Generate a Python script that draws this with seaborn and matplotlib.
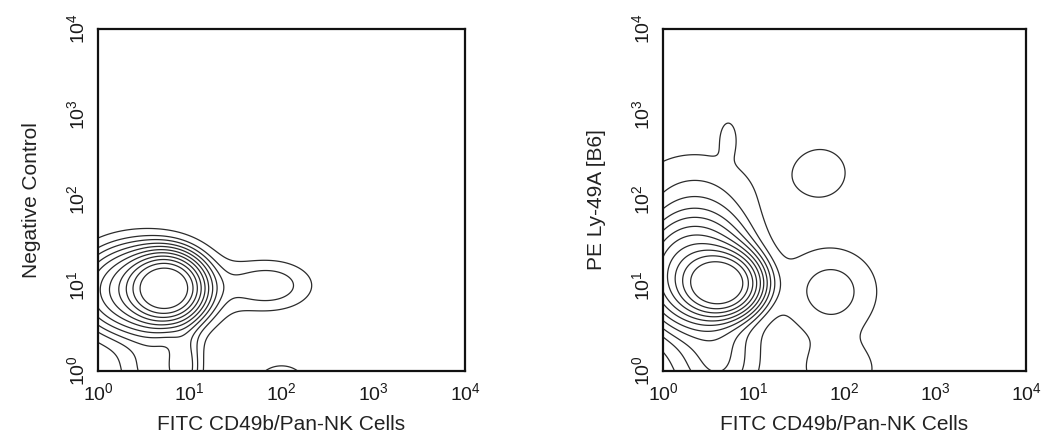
import matplotlib
matplotlib.use("Agg")
import matplotlib.pyplot as plt
import numpy as np
import seaborn as sns

# decades shown on both axes
decades = [0, 1, 2, 3, 4]
x_label = "FITC CD49b/Pan-NK Cells"
y_labels = ["Negative Control", "PE Ly-49A [B6]"]

# populations, in log10 units:
# centre x, centre y, spread x, spread y, relative weight
left_cx = [0.74, 0.50, 1.85, 2.00, 0.60, 0.95]
left_cy = [0.97, 0.95, 1.00, -0.15, 0.00, 0.05]
left_sx = [0.20, 0.40, 0.33, 0.18, 0.25, 0.12]
left_sy = [0.19, 0.30, 0.20, 0.15, 0.30, 0.30]
left_w = [1.00, 0.25, 0.043, 0.04, 0.035, 0.045]

right_cx = [0.63, 0.35, 0.35, 1.85, 1.74, 0.72, 1.95, 0.60]
right_cy = [1.02, 1.15, 2.10, 0.93, 2.32, 2.75, 0.00, 0.10]
right_sx = [0.22, 0.35, 0.55, 0.37, 0.25, 0.07, 0.32, 0.30]
right_sy = [0.19, 0.38, 0.40, 0.37, 0.25, 0.15, 0.25, 0.35]
right_w = [1.00, 0.30, 0.026, 0.038, 0.026, 0.02, 0.026, 0.045]

# contour levels (fraction of the main peak)
levels = [0.015, 0.03, 0.045, 0.065, 0.09, 0.125, 0.17, 0.235, 0.32, 0.44, 0.62]

sns.set_style("white")
plt.rcParams["font.family"] = ["Liberation Sans", "DejaVu Sans"]
plt.rcParams["mathtext.fontset"] = "custom"
plt.rcParams["mathtext.rm"] = "Liberation Sans"
plt.rcParams["mathtext.it"] = "Liberation Sans"


def density(u, v, cx, cy, sx, sy, w):
    z = np.zeros_like(u)
    for a, b, c, d, e in zip(cx, cy, sx, sy, w):
        z += e * np.exp(-0.5 * (((u - a) / c) ** 2 + ((v - b) / d) ** 2))
    return z


grid = np.linspace(-0.5, 4.5, 500)
U, V = np.meshgrid(grid, grid)

fig = plt.figure(figsize=(10.47, 4.36), dpi=100)
W, H = 1047, 436
axes = [
    fig.add_axes([98 / W, (H - 371) / H, 367 / W, 342 / H]),
    fig.add_axes([663 / W, (H - 371) / H, 363 / W, 342 / H]),
]
params = [
    (left_cx, left_cy, left_sx, left_sy, left_w),
    (right_cx, right_cy, right_sx, right_sy, right_w),
]

tick_vals = [10.0 ** k for k in decades]
tick_text = [f"$10^{{{k}}}$" for k in decades]

for ax, p, ylab in zip(axes, params, y_labels):
    Z = density(U, V, *p)
    ax.contour(10 ** U, 10 ** V, Z, levels=levels, colors="#2b2b2b",
               linewidths=0.9)
    ax.set_xscale("log")
    ax.set_yscale("log")
    ax.set_xlim(1, 1e4)
    ax.set_ylim(1, 1e4)
    ax.set_xticks(tick_vals)
    ax.set_xticklabels(tick_text, fontsize=14)
    ax.set_yticks(tick_vals)
    ax.set_yticklabels(tick_text, fontsize=14, rotation=90, va="center")
    ax.minorticks_off()
    ax.tick_params(axis="x", length=0, pad=8, colors="#1a1a1a")
    ax.tick_params(axis="y", length=0, pad=7, colors="#1a1a1a")
    for s in ax.spines.values():
        s.set_visible(True)
        s.set_linewidth(1.6)
        s.set_color("#111111")
    ax.set_xlabel(x_label, fontsize=15, labelpad=8, color="#222222")
    ax.set_ylabel(ylab, fontsize=15, labelpad=18, color="#222222")

fig.savefig("out.png", dpi=100, facecolor="white")
